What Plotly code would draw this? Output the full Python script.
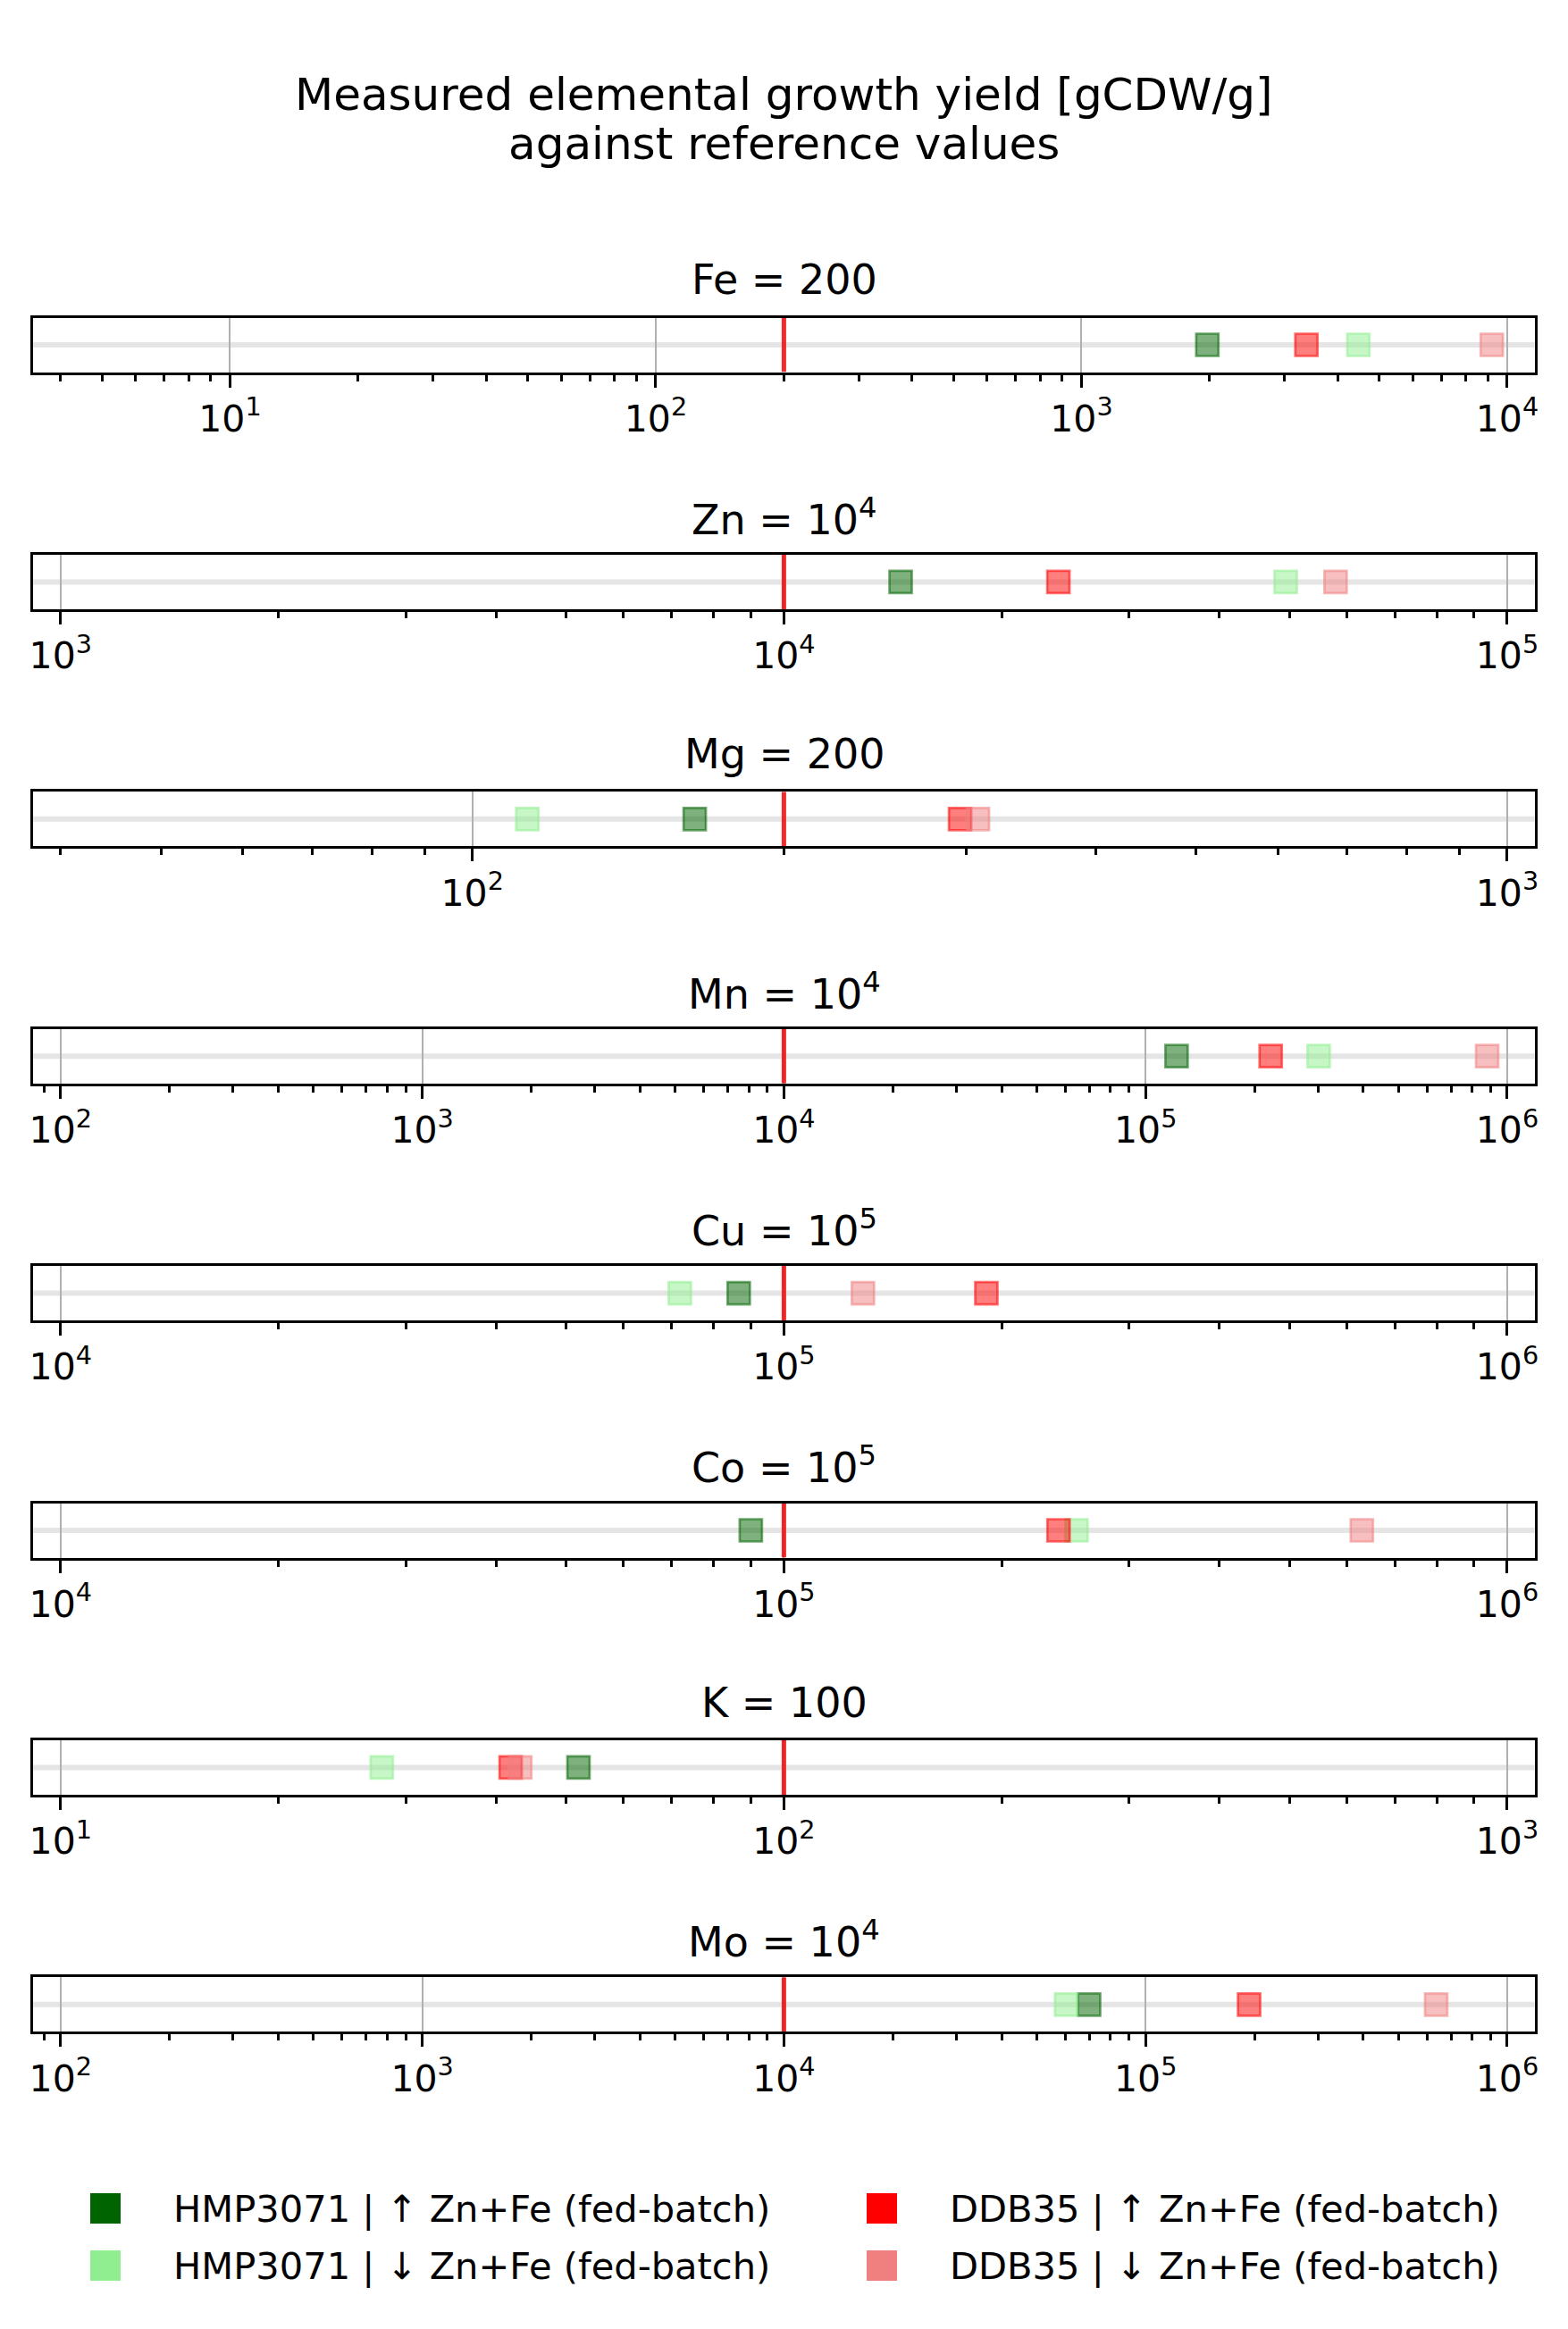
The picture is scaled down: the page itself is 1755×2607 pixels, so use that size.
import math
import plotly.graph_objects as go

# ---------------- data ----------------
elements = ["Fe", "Zn", "Mg", "Mn", "Cu", "Co", "K", "Mo"]
ref_values = [200, 1e4, 200, 1e4, 1e5, 1e5, 100, 1e4]
panel_titles = ["Fe = 200", "Zn = 10<sup>4</sup>", "Mg = 200", "Mn = 10<sup>4</sup>",
                "Cu = 10<sup>5</sup>", "Co = 10<sup>5</sup>", "K = 100", "Mo = 10<sup>4</sup>"]
# half-width of displayed window as a factor around the reference
span_factor = [50, 10, 5, 100, 10, 10, 10, 100]

hmp_up = [1975, 14500, 164, 121800, 86600, 90000, 52.0, 69800]
hmp_down = [4470, 49400, 113, 301000, 71800, 253800, 27.8, 60300]
ddb_up = [3375, 23960, 296, 221800, 190500, 239700, 41.9, 193300]
ddb_down = [9200, 57900, 308, 880000, 128600, 629500, 43.2, 636000]

series_names = ["HMP3071 | ↑ Zn+Fe (fed-batch)", "HMP3071 | ↓ Zn+Fe (fed-batch)",
                "DDB35 | ↑ Zn+Fe (fed-batch)", "DDB35 | ↓ Zn+Fe (fed-batch)"]
series_values = [hmp_up, hmp_down, ddb_up, ddb_down]
series_rgb = [(0, 100, 0), (144, 238, 144), (255, 0, 0), (240, 128, 128)]

main_title = ["Measured elemental growth yield [gCDW/g]", "against reference values"]

# ---------------- layout geometry ----------------
W, H = 1755, 2607
FONT = "DejaVu Sans"
x_left_px, x_right_px = 37.3, 1717.5
top0, step, ax_h = 355.5, 265.4, 61.0
margin_frac = 1.0377


def py(p):
    return 1 - p / H


def rgba(c, a):
    return "rgba(%d,%d,%d,%s)" % (c[0], c[1], c[2], a)


fig = go.Figure()
layout = dict(
    width=W, height=H, autosize=False,
    margin=dict(l=0, r=0, t=0, b=0, pad=0),
    paper_bgcolor="white", plot_bgcolor="white",
    showlegend=False,
    font=dict(family=FONT, color="black"),
)
annotations = []
shapes = []

for i, el in enumerate(elements):
    idx = "" if i == 0 else str(i + 1)
    xa, ya = "x" + idx, "y" + idx
    top = top0 + step * i
    bot = top + ax_h
    ref = ref_values[i]
    c = math.log10(ref)
    half = math.log10(span_factor[i]) * margin_frac
    lo, hi = c - half, c + half

    majors = [10 ** n for n in range(math.floor(lo), math.ceil(hi) + 1) if lo <= n <= hi]
    minors = []
    for n in range(math.floor(lo) - 1, math.ceil(hi) + 1):
        for k in range(2, 10):
            v = k * 10 ** n
            if lo <= math.log10(v) <= hi:
                minors.append(v)

    layout["xaxis" + idx] = dict(
        type="log", range=[lo, hi], domain=[x_left_px / W, x_right_px / W],
        anchor=ya, showline=True, mirror=True, linecolor="black", linewidth=3,
        ticks="outside", ticklen=14, tickwidth=3, tickcolor="black",
        tickmode="array", tickvals=majors,
        ticktext=["10<sup>%d</sup>" % round(math.log10(v)) for v in majors],
        tickfont=dict(family=FONT, size=41, color="black"),
        showgrid=True, gridcolor="#b0b0b0", gridwidth=2,
        minor=dict(tickmode="array", tickvals=minors, ticks="outside", ticklen=7,
                   tickwidth=2.5, tickcolor="black", showgrid=False),
        zeroline=False, fixedrange=True, automargin=False,
    )
    layout["yaxis" + idx] = dict(
        range=[-1, 1], domain=[py(bot), py(top)], anchor=xa,
        showline=True, mirror=True, linecolor="black", linewidth=3,
        showticklabels=False, ticks="", showgrid=False, zeroline=False,
        fixedrange=True, automargin=False,
    )

    # horizontal light band through the middle
    shapes.append(dict(type="line", xref=xa + " domain", yref=ya, x0=0, x1=1, y0=0, y1=0,
                       line=dict(color="#e5e5e5", width=6), layer="below"))

    # reference line
    fig.add_trace(go.Scatter(x=[ref, ref], y=[-1, 1], mode="lines", xaxis=xa, yaxis=ya,
                             line=dict(color="rgba(240,20,20,0.9)", width=5),
                             hoverinfo="skip", showlegend=False))

    for name, vals, col in zip(series_names, series_values, series_rgb):
        fig.add_trace(go.Scatter(
            x=[vals[i]], y=[0], mode="markers", xaxis=xa, yaxis=ya, name=name,
            marker=dict(symbol="square", size=25, color=rgba(col, 0.5),
                        line=dict(color=rgba(col, 0.55), width=2.7)),
            showlegend=False, cliponaxis=False))

    annotations.append(dict(text=panel_titles[i], xref="paper", yref="paper",
                            x=0.5, y=py(top - 42), xanchor="center", yanchor="middle",
                            showarrow=False, font=dict(family=FONT, size=46, color="black")))

# main title
for txt, ypx in zip(main_title, [105.5, 161]):
    annotations.append(dict(text=txt, xref="paper", yref="paper", x=0.5, y=py(ypx),
                            xanchor="center", yanchor="middle", showarrow=False,
                            font=dict(family=FONT, size=50, color="black")))

# legend (2 columns x 2 rows)
legend_pos = [(118, 2472, 192), (118, 2536, 192), (987, 2472, 1061), (987, 2536, 1061)]
for (sx, sy, tx), name, col in zip(legend_pos, series_names, series_rgb):
    shapes.append(dict(type="rect", xref="paper", yref="paper",
                       x0=(sx - 17) / W, x1=(sx + 17) / W, y0=py(sy + 17), y1=py(sy - 17),
                       fillcolor=rgba(col, 1), line=dict(width=0)))
    annotations.append(dict(text=name, xref="paper", yref="paper", x=tx / W, y=py(sy),
                            xanchor="left", yanchor="middle", showarrow=False,
                            font=dict(family=FONT, size=41.6, color="black")))

layout["annotations"] = annotations
layout["shapes"] = shapes
fig.update_layout(**layout)
fig.write_html("out.html")
